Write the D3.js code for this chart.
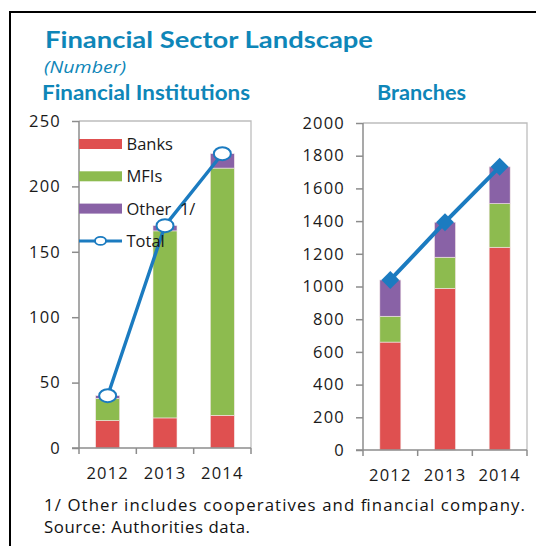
<!DOCTYPE html>
<html>
<head>
<meta charset="utf-8">
<script src="https://cdn.jsdelivr.net/npm/d3@7"></script>
<style>
  body { margin: 0; background: #fff; }
  text { font-family: "Open Sans", sans-serif; }
  .head { font-family: Lato, "Open Sans", sans-serif; font-weight: 700; fill: #0e86b8; }
</style>
</head>
<body>
<svg id="chart" width="536" height="546"></svg>
<script>
// data
const years = ["2012", "2013", "2014"];
const seriesNames = ["Banks", "MFIs", "Other  1/"];
const seriesColors = ["#df5050", "#8dbb4f", "#8962a6"];

const instBanks = [21, 23, 25];
const instMFIs = [17, 143, 189];
const instOther = [2, 4, 11];
const instTotal = [40, 170, 225];
const instTicks = [0, 50, 100, 150, 200, 250];

const branchBanks = [660, 988, 1240];
const branchMFIs = [158, 191, 267];
const branchOther = [222, 214, 225];
const branchTotal = [1040, 1393, 1732];
const branchTicks = [0, 200, 400, 600, 800, 1000, 1200, 1400, 1600, 1800, 2000];

const lineColor = "#1b7bc0";
const inkColor = "#1a1a1a";

const svg = d3.select("#chart");

// outer frame (runs off the right and bottom edge)
svg.append("rect")
    .attr("x", 10).attr("y", 12)
    .attr("width", 560).attr("height", 560)
    .attr("fill", "none")
    .attr("stroke", "#000")
    .attr("stroke-width", 2);

svg.append("text").attr("class", "head")
    .attr("x", 45).attr("y", 48)
    .attr("font-size", 22.5)
    .attr("textLength", 328).attr("lengthAdjust", "spacingAndGlyphs")
    .text("Financial Sector Landscape");

svg.append("text")
    .attr("x", 44).attr("y", 73)
    .attr("font-size", 16).attr("font-style", "italic")
    .attr("fill", "#0e86b8")
    .attr("textLength", 82).attr("lengthAdjust", "spacingAndGlyphs")
    .text("(Number)");

svg.append("text").attr("class", "head")
    .attr("x", 42).attr("y", 100)
    .attr("font-size", 20)
    .attr("textLength", 208).attr("lengthAdjust", "spacingAndGlyphs")
    .text("Financial Institutions");

svg.append("text").attr("class", "head")
    .attr("x", 377).attr("y", 100)
    .attr("font-size", 20)
    .attr("textLength", 89).attr("lengthAdjust", "spacingAndGlyphs")
    .text("Branches");

const footnotes = [
    "1/ Other includes cooperatives and financial company.",
    "Source: Authorities data."
];
const footWidths = [481, 206];
svg.selectAll("text.foot")
    .data(footnotes)
    .enter()
    .append("text")
    .attr("class", "foot")
    .attr("x", 44)
    .attr("y", (d, i) => 511 + i * 21.5)
    .attr("font-size", 16.8)
    .attr("fill", "#111")
    .attr("textLength", (d, i) => footWidths[i])
    .attr("lengthAdjust", "spacing")
    .text(d => d);

function drawPanel(opts) {
    const { left, right, top, bottom, max, ticks, stacks, total, marker, barWidth, lineWidth } = opts;

    const x = d3.scaleBand().domain(years).range([left, right]);
    const y = d3.scaleLinear().domain([0, max]).range([bottom, top]);
    const g = svg.append("g");

    // plot area border (top and right, light grey)
    g.append("path")
        .attr("d", `M${left},${top}H${right}V${bottom}`)
        .attr("fill", "none")
        .attr("stroke", "#bdbdbd")
        .attr("stroke-width", 1.3);

    // stacked bars
    const rows = years.map((yr, i) => ({ year: yr, vals: stacks.map(s => s[i]) }));
    const stacked = d3.stack().keys([0, 1, 2]).value((d, k) => d.vals[k])(rows);
    stacked.forEach((layer, k) => {
        g.append("g")
            .selectAll("rect")
            .data(layer)
            .enter()
            .append("rect")
            .attr("x", d => x(d.data.year) + (x.bandwidth() - barWidth) / 2)
            .attr("width", barWidth)
            .attr("y", d => y(d[1]))
            .attr("height", d => y(d[0]) - y(d[1]))
            .attr("fill", seriesColors[k])
            .attr("stroke", "#f3e6e6")
            .attr("stroke-width", 0.6);
    });

    // y axis
    const yAxis = g.append("g")
        .attr("transform", `translate(${left},0)`)
        .call(d3.axisLeft(y).tickValues(ticks).tickSize(7).tickPadding(11).tickFormat(d3.format("d")));
    // x axis with ticks at band edges
    const xAxis = g.append("g")
        .attr("transform", `translate(0,${bottom})`)
        .call(d3.axisBottom(x).tickSize(0).tickPadding(22));
    xAxis.selectAll(".tick")
        .append("line")
        .attr("x1", -x.bandwidth() / 2).attr("x2", -x.bandwidth() / 2)
        .attr("y1", 0).attr("y2", 6);
    xAxis.append("line")
        .attr("x1", right).attr("x2", right)
        .attr("y1", 0).attr("y2", 6);
    xAxis.append("line")
        .attr("x1", left - 7).attr("x2", left)
        .attr("y1", 0).attr("y2", 0);

    [yAxis, xAxis].forEach(ax => {
        ax.select(".domain").attr("stroke", "#8c8c8c").attr("stroke-width", 1.5);
        ax.selectAll("line").attr("stroke", "#8c8c8c").attr("stroke-width", 1.5);
        ax.selectAll("text")
            .attr("font-family", "'Open Sans', sans-serif")
            .attr("font-size", 16.5)
            .attr("letter-spacing", 1.2)
            .attr("fill", inkColor);
    });
    xAxis.selectAll("text").attr("dy", "0.55em");
    yAxis.select(".domain").attr("d", `M0,${top}V${bottom}`);
    xAxis.select(".domain").attr("d", `M${left},0H${right}`);

    // total line
    const pts = years.map((yr, i) => [x(yr) + x.bandwidth() / 2, y(total[i])]);
    g.append("path")
        .attr("d", d3.line()(pts))
        .attr("fill", "none")
        .attr("stroke", lineColor)
        .attr("stroke-width", lineWidth);

    if (marker === "ellipse") {
        g.selectAll("ellipse.m")
            .data(pts)
            .enter()
            .append("ellipse")
            .attr("cx", d => d[0]).attr("cy", d => d[1])
            .attr("rx", 8.5).attr("ry", 6.5)
            .attr("fill", "#fff")
            .attr("stroke", lineColor)
            .attr("stroke-width", 2);
    } else {
        g.selectAll("path.m")
            .data(pts)
            .enter()
            .append("path")
            .attr("d", d3.symbol().type(d3.symbolSquare).size(160))
            .attr("transform", d => `translate(${d[0]},${d[1]}) rotate(45)`)
            .attr("fill", lineColor);
    }
    return { x, y };
}

drawPanel({
    left: 79, right: 251, top: 121, bottom: 448,
    max: 250, ticks: instTicks,
    stacks: [instBanks, instMFIs, instOther],
    total: instTotal, marker: "ellipse", barWidth: 24, lineWidth: 3.4
});

drawPanel({
    left: 363, right: 527, top: 123, bottom: 450,
    max: 2000, ticks: branchTicks,
    stacks: [branchBanks, branchMFIs, branchOther],
    total: branchTotal, marker: "diamond", barWidth: 21, lineWidth: 4
});

// legend inside the left panel
const legendItems = seriesNames.concat(["Total"]);
const legend = svg.append("g")
    .selectAll("g")
    .data(legendItems)
    .enter()
    .append("g")
    .attr("transform", (d, i) => `translate(79,${144 + i * 32.3})`);

legend.filter((d, i) => i < 3)
    .append("rect")
    .attr("x", 0).attr("y", -5)
    .attr("width", 43).attr("height", 10)
    .attr("fill", (d, i) => seriesColors[i]);

const totalItem = legend.filter(d => d === "Total");
totalItem.append("line")
    .attr("x1", 0).attr("x2", 43)
    .attr("stroke", lineColor).attr("stroke-width", 3);
totalItem.append("ellipse")
    .attr("cx", 21.5).attr("rx", 5.5).attr("ry", 4)
    .attr("fill", "#fff")
    .attr("stroke", lineColor).attr("stroke-width", 1.8);

legend.append("text")
    .attr("x", 47.5).attr("y", 6)
    .attr("font-size", 16.5)
    .attr("fill", inkColor)
    .style("white-space", "pre")
    .text(d => d);
</script>
</body>
</html>
